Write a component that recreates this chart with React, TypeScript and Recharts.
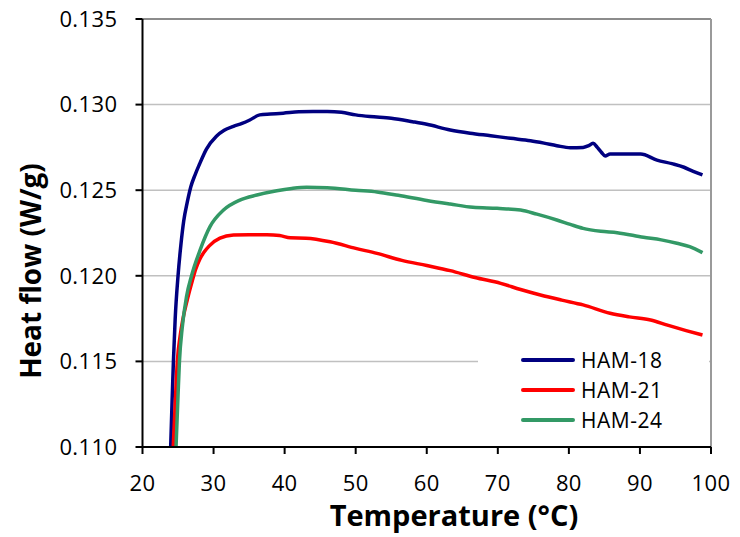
import { LineChart, Line, XAxis, YAxis, CartesianGrid, ReferenceLine } from 'recharts';

// HAM-18 curve (temperature in °C, heat flow in W/g)
const ham18Temp = [23.95, 24.15, 24.35, 24.6, 25.0, 25.4, 25.8, 26.3, 26.8, 27.4, 28.0, 29.0, 30.4, 31.5, 32.8, 34.0, 35.1, 36.5, 38.0, 39.8, 42.0, 44.0, 46.0, 48.0, 50.0, 52.0, 55.0, 58.0, 60.0, 63.3, 66.1, 69.0, 71.8, 74.6, 76.5, 78.3, 80.2, 82.0, 82.8, 83.4, 84.0, 84.6, 85.1, 85.8, 88.0, 90.1, 92.4, 94.5, 96.2, 97.5, 98.8];
const ham18Flow = [0.1098, 0.1125, 0.115, 0.1175, 0.12, 0.1218, 0.1232, 0.1243, 0.1252, 0.1259, 0.1265, 0.1274, 0.12815, 0.1285, 0.12873, 0.1289, 0.1291, 0.1294, 0.12945, 0.1295, 0.12958, 0.1296, 0.1296, 0.12955, 0.1294, 0.1293, 0.1292, 0.129, 0.12885, 0.12852, 0.12833, 0.12818, 0.12803, 0.12789, 0.12775, 0.1276, 0.12748, 0.1275, 0.1276, 0.12774, 0.1275, 0.1272, 0.127, 0.12711, 0.12711, 0.12711, 0.12676, 0.12655, 0.12634, 0.1261, 0.12589];

// HAM-21
const ham21Temp = [24.3, 24.6, 24.9, 25.3, 25.7, 26.3, 27.0, 27.5, 28.1, 28.7, 29.4, 30.9, 32.8, 35.0, 37.5, 39.3, 40.8, 43.0, 46.4, 50.0, 53.0, 56.5, 60.0, 63.3, 66.8, 70.4, 73.2, 76.0, 79.0, 82.0, 85.8, 88.5, 91.5, 94.0, 96.5, 98.8];
const ham21Flow = [0.1098, 0.1125, 0.115, 0.1165, 0.1175, 0.1186, 0.1197, 0.1204, 0.121, 0.1214, 0.12175, 0.1222, 0.12238, 0.1224, 0.1224, 0.12235, 0.12222, 0.1222, 0.12199, 0.1216, 0.12131, 0.1209, 0.1206, 0.1203, 0.1199, 0.11956, 0.1192, 0.11888, 0.11858, 0.1183, 0.11781, 0.1176, 0.11742, 0.1171, 0.1168, 0.11654];

// HAM-24
const ham24Temp = [24.7, 25.0, 25.2, 25.6, 26.2, 26.9, 28.1, 29.5, 31.4, 33.7, 36.1, 38.9, 41.0, 43.1, 46.0, 50.0, 53.0, 56.0, 60.0, 63.3, 66.5, 69.9, 73.2, 75.5, 78.3, 80.2, 82.0, 84.5, 86.8, 90.5, 93.0, 95.2, 97.0, 98.8];
const ham24Flow = [0.1098, 0.113, 0.115, 0.117, 0.1188, 0.12, 0.1215, 0.12287, 0.12384, 0.12442, 0.12472, 0.12497, 0.1251, 0.12517, 0.12515, 0.125, 0.1249, 0.1247, 0.1244, 0.12419, 0.124, 0.12394, 0.12384, 0.1236, 0.12326, 0.123, 0.12277, 0.1226, 0.12252, 0.12225, 0.1221, 0.1219, 0.1217, 0.12135];

const xTicks = [20, 30, 40, 50, 60, 70, 80, 90, 100];
const yTicks = [0.11, 0.115, 0.12, 0.125, 0.13, 0.135];

const toPoints = (temps: number[], flows: number[]) => temps.map((t, i) => ({ t, f: flows[i] }));

const series = [
  { name: 'HAM-18', color: '#000080', data: toPoints(ham18Temp, ham18Flow) },
  { name: 'HAM-21', color: '#FF0000', data: toPoints(ham21Temp, ham21Flow) },
  { name: 'HAM-24', color: '#339966', data: toPoints(ham24Temp, ham24Flow) },
];

const font = '"Open Sans", sans-serif';
const tickStyle = { fontSize: 22, fill: '#000', fontFamily: font, letterSpacing: 0.4 };

export default function App() {
  return (
    <div style={{ position: 'absolute', left: 0, top: 0, width: 740, height: 537, background: '#fff' }}>
      <LineChart width={740} height={537} margin={{ top: 19, right: 29, left: 82.5, bottom: 50 }}>
        <CartesianGrid vertical={false} stroke="#c0c0c0" strokeWidth={1.5} />
        <XAxis
          type="number"
          dataKey="t"
          domain={[20, 100]}
          ticks={xTicks}
          height={40}
          allowDataOverflow
          tickSize={7}
          tickMargin={21}
          axisLine={{ stroke: '#000', strokeWidth: 2 }}
          tickLine={{ stroke: '#000', strokeWidth: 2 }}
          tick={tickStyle}
        />
        <YAxis
          type="number"
          dataKey="f"
          domain={[0.11, 0.135]}
          ticks={yTicks}
          width={60}
          allowDataOverflow
          tickSize={7}
          tickMargin={18}
          tickFormatter={(v: number) => v.toFixed(3)}
          axisLine={{ stroke: '#000', strokeWidth: 2 }}
          tickLine={{ stroke: '#000', strokeWidth: 2 }}
          tick={tickStyle}
        />
        <ReferenceLine y={0.135} stroke="#8c8c8c" strokeWidth={2} />
        <ReferenceLine x={100} stroke="#9a9a9a" strokeWidth={2} />
        {series.map((s) => (
          <Line
            key={s.name}
            data={s.data}
            dataKey="f"
            name={s.name}
            type="monotone"
            stroke={s.color}
            strokeWidth={3.5}
            dot={false}
            isAnimationActive={false}
          />
        ))}
      </LineChart>

      {/* legend box, sits over the 0.115 gridline like in the original */}
      <div style={{ position: 'absolute', left: 478, top: 341, width: 231, height: 100, background: '#fff' }}>
        {series.map((s, i) => (
          <div key={s.name} style={{ position: 'absolute', left: 43, top: 7 + i * 30, height: 24, display: 'flex', alignItems: 'center' }}>
            <div style={{ width: 54, height: 4, background: s.color, borderRadius: 2 }} />
            <span style={{ marginLeft: 6, fontFamily: font, fontSize: 21, letterSpacing: 0.5, color: '#000' }}>{s.name}</span>
          </div>
        ))}
      </div>

      <div
        style={{
          position: 'absolute', left: 30, top: 271, transform: 'translate(-50%, -50%) rotate(-90deg)',
          fontFamily: font, fontWeight: 700, fontSize: 28, whiteSpace: 'nowrap', color: '#000',
        }}
      >
        Heat flow (W/g)
      </div>
      <div
        style={{
          position: 'absolute', left: 454, top: 514, transform: 'translate(-50%, -50%)',
          fontFamily: font, fontWeight: 700, fontSize: 29, whiteSpace: 'nowrap', color: '#000',
        }}
      >
        Temperature (°C)
      </div>
    </div>
  );
}
